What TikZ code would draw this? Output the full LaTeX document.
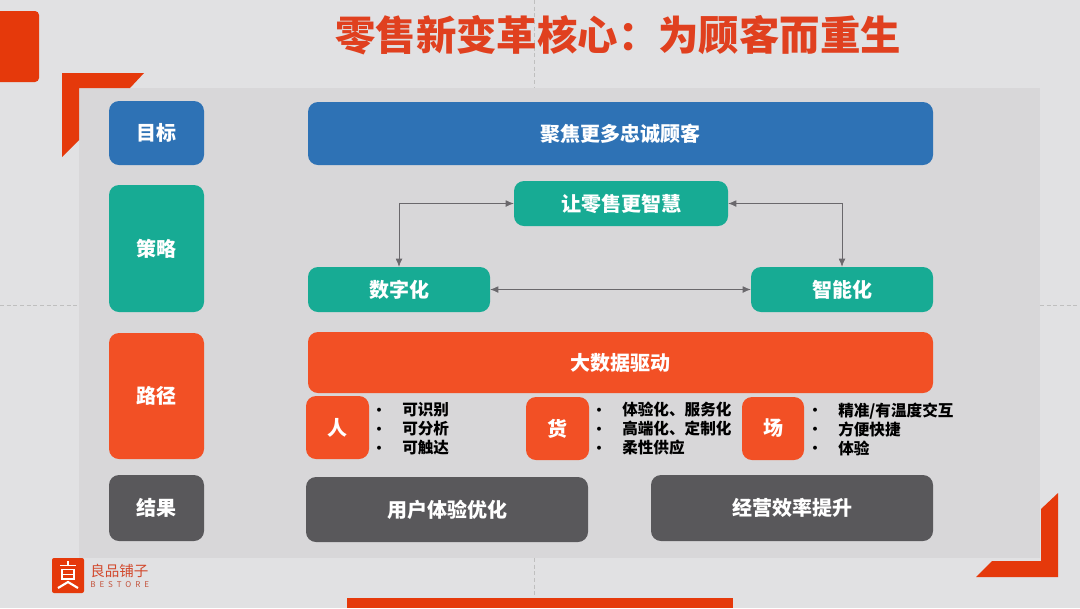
\documentclass[tikz,border=0pt]{standalone}
\usepackage{fontspec}
\setmainfont{Noto Sans CJK SC}
\usepackage{xcolor}
\usetikzlibrary{arrows.meta, calc}
\definecolor{bgcol}{HTML}{E1E1E3}
\definecolor{panelcol}{HTML}{D8D7D9}
\definecolor{cornercol}{HTML}{E5390B}
\definecolor{titlecol}{HTML}{E0401F}
\definecolor{bluecol}{HTML}{2E72B5}
\definecolor{tealcol}{HTML}{17AB94}
\definecolor{redcol}{HTML}{F25025}
\definecolor{darkcol}{HTML}{59585B}
\definecolor{linkcol}{HTML}{6A686C}
\def\px{0.75pt}
\tikzset{
  card/.style={rounded corners=10*\px, inner sep=0pt, text=white, font=\bfseries\fontsize{15}{18}\selectfont},
  sizedcard/.style n args={3}{card, fill=#3, minimum width=#1*\px, minimum height=#2*\px},
  listtext/.style={anchor=west, inner sep=0pt, align=left, text=black, font=\bfseries\fontsize{11.7}{14.25}\selectfont},
  dot/.style={anchor=center, inner sep=0pt, text=black, align=center, font=\bfseries\fontsize{10.5}{14.25}\selectfont},
  link/.style={linkcol, line width=0.5pt, {Latex[length=6pt,width=5pt]}-{Latex[length=6pt,width=5pt]}},
  guide/.style={gray!50, line width=0.3pt, densely dashed}
}
\begin{document}
\begin{tikzpicture}[x=0.75pt, y=-0.75pt]
    \useasboundingbox (0,0) rectangle (1080,608);
    % Fundo
    \fill[bgcol] (0,0) rectangle (1080,608);
    \draw[guide] (534,0) -- (534,88);
    \draw[guide] (534,558) -- (534,608);
    \draw[guide] (0,305) -- (79,305);
    \draw[guide] (1040,305) -- (1080,305);
    \fill[panelcol] (79,88) rectangle (1040,558);
    % Cantos
    \fill[cornercol, rounded corners=4*\px] (-10,11) rectangle (39,82);
    \fill[cornercol] (62,73) -- (144,73) -- (130,88) -- (79,88) -- (79,140) -- (62,157) -- cycle;
    \fill[cornercol] (1058,493) -- (1058,577) -- (976,577) -- (992,561) -- (1041,561) -- (1041,509) -- cycle;
    \fill[cornercol] (347,598) rectangle (733,608);
    % Titulo
    \node[inner sep=0pt, text=titlecol, font=\bfseries\fontsize{30.3}{36}\selectfont] (title) at (618,35) {零售新变革核心：为顾客而重生};
    % Coluna esquerda
    \node[sizedcard={95}{64}{bluecol}] (goal) at (156.5,133) {目标};
    \node[sizedcard={95}{127}{tealcol}] (strategy) at (156.5,248.5) {策略};
    \node[sizedcard={95}{126}{redcol}] (path) at (156.5,396) {路径};
    \node[sizedcard={95}{66}{darkcol}] (result) at (156.5,508) {结果};
    % Objetivo e estrategia
    \node[sizedcard={625}{63}{bluecol}] (focus) at (620.5,133.5) {聚焦更多忠诚顾客};
    \node[sizedcard={214}{45}{tealcol}] (smart) at (621,203.5) {让零售更智慧};
    \node[sizedcard={182}{45}{tealcol}] (digital) at (399,289.5) {数字化};
    \node[sizedcard={182}{45}{tealcol}] (intel) at (842,289.5) {智能化};
    \draw[link] (smart.west) -| (digital.north);
    \draw[link] (smart.east) -| (intel.north);
    \draw[link] (digital.east) -- (intel.west);
    % Caminho
    \node[sizedcard={625}{61}{redcol}] (bigdata) at (620.5,362.5) {大数据驱动};
    \node[sizedcard={63}{63}{redcol}] (people) at (337.5,427.5) {人};
    \node[sizedcard={63}{63}{redcol}] (goods) at (557.5,428.5) {货};
    \node[sizedcard={62}{63}{redcol}] (place) at (773,428.5) {场};
    \node[dot] (peopledots) at (379,431) {•\\•\\•};
    \node[listtext] (peoplelist) at (402,429) {可识别\\可分析\\可触达};
    \node[dot] (goodsdots) at (599,431) {•\\•\\•};
    \node[listtext] (goodslist) at (622,429) {体验化、服务化\\高端化、定制化\\柔性供应};
    \node[dot] (placedots) at (815,431) {•\\•\\•};
    \node[listtext] (placelist) at (838,429) {精准/有温度交互\\方便快捷\\体验};
    % Resultado
    \node[sizedcard={282}{65}{darkcol}] (user) at (447,509.5) {用户体验优化};
    \node[sizedcard={282}{66}{darkcol}] (biz) at (792,508) {经营效率提升};
    % Logo
    \fill[cornercol, rounded corners=2*\px] (52,558) rectangle (84,593);
    \draw[white, line width=1.4pt] (60,565.5) -- (76,565.5) (68,561) -- (68,565.5);
    \draw[white, line width=1.3pt] (62,569.5) rectangle (74,579);
    \draw[white, line width=1.3pt] (62,574.5) -- (74,574.5);
    \draw[white, line width=1.6pt] (58,588) -- (68,582) -- (78,588);
    \node[anchor=west, inner sep=0pt, text=titlecol!85!gray, font=\fontsize{10.9}{12}\selectfont] (brand) at (90,571) {良品铺子};
    \node[anchor=west, inner sep=0pt, text=titlecol!70!gray, font=\fontsize{6}{7}\selectfont\addfontfeature{LetterSpace=50}] (brandlatin) at (90,584.5) {BESTORE};
\end{tikzpicture}
\end{document}
